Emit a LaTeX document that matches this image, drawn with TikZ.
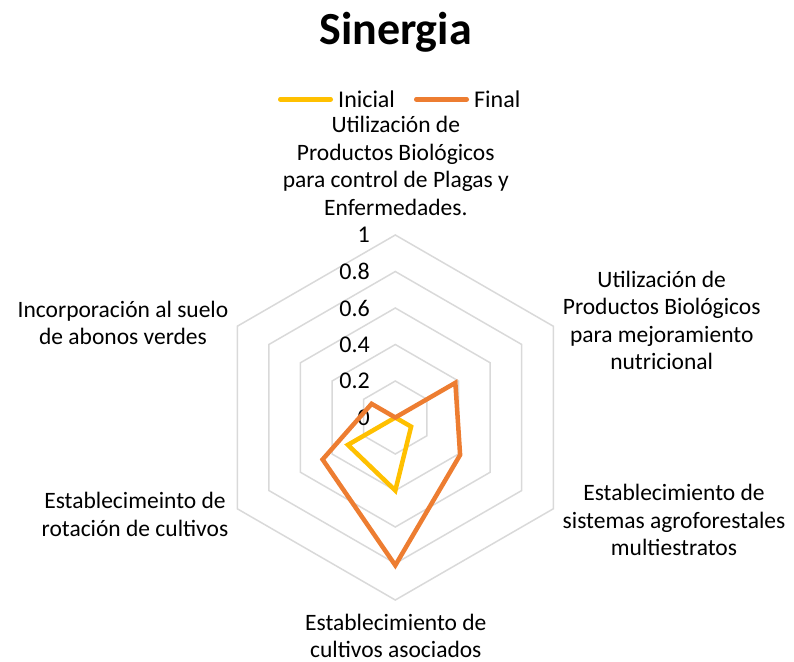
\documentclass[tikz,border=0pt]{standalone}
\usepackage{fontspec}
\setmainfont{Carlito}
\usetikzlibrary{calc}
\definecolor{inicial}{RGB}{255,192,0}
\definecolor{final}{RGB}{237,125,49}
\definecolor{rejilla}{RGB}{217,217,217}
\newcommand{\rmax}{182.5}
\tikzset{
  ring/.style={draw=rejilla, line width=1.5pt},
  serie/.style={line width=4.5pt},
  legline/.style={line width=4.5pt, line cap=round},
  eje/.style={font=\fontsize{23.5}{27.5}\selectfont, align=center, anchor=base, inner sep=0pt},
  tick/.style={font=\fontsize{24}{27.5}\selectfont, anchor=east, inner sep=0pt},
}

\begin{document}
\begin{tikzpicture}[x=1pt, y=1pt]
    \useasboundingbox (0,0) rectangle (794,-661);
    % Coordinates
    \coordinate (O) at (395.3,-417.5);

    % Title
    \node[anchor=base, inner sep=0pt, font=\fontsize{46}{50}\selectfont\bfseries] (titulo) at (395.5,-45) {Sinergia};

    % Legend
    \node[anchor=base west, inner sep=0pt, font=\fontsize{24}{27.5}\selectfont] (leginicial) at (338,-107.7) {Inicial};
    \node[anchor=base west, inner sep=0pt, font=\fontsize{24}{27.5}\selectfont] (legfinal) at (474,-107.7) {Final};
    \draw[legline, draw=inicial] ([xshift=-7.25pt]leginicial.west) -- ++(-50.5,0);
    \draw[legline, draw=final] ([xshift=-7.25pt]legfinal.west) -- ++(-50.5,0);

    % Rings
    \foreach \k in {1,...,5}
        \draw[ring, shift={(O)}] (90:{\k*36.5}) -- (30:{\k*36.5}) -- (-30:{\k*36.5}) -- (-90:{\k*36.5}) -- (-150:{\k*36.5}) -- (150:{\k*36.5}) -- cycle;

    % Tick labels
    \foreach \k/\v in {0/0, 1/0.2, 2/0.4, 3/0.6, 4/0.8, 5/1}
        \node[tick] (t\k) at ($(O)+(-25.3,{\k*36.5})$) {\v};

    % Series
    \draw[serie, draw=inicial, shift={(O)}] (90:0) -- (30:0) -- (-30:{0.1*\rmax}) -- (-90:{0.4*\rmax}) -- (-150:{0.3*\rmax}) -- (150:0) -- cycle;
    \draw[serie, draw=final, shift={(O)}] (90:0) -- (30:{0.38*\rmax}) -- (-30:{0.41*\rmax}) -- (-90:{0.81*\rmax}) -- (-150:{0.46*\rmax}) -- (150:{0.15*\rmax}) -- cycle;

    % Axis labels (base = last line)
    \node[eje] (a1) at (395.8,-215.3) {Utilización de\\Productos Biológicos\\para control de Plagas y\\Enfermedades.};
    \node[eje] (a2) at (661.7,-369.5) {Utilización de\\Productos Biológicos\\para mejoramiento\\nutricional};
    \node[eje] (a3) at (674,-555.5) {Establecimiento de\\sistemas agroforestales\\multiestratos};
    \node[eje] (a4) at (395.8,-657.5) {Establecimiento de\\cultivos asociados};
    \node[eje] (a5) at (135,-536.3) {Establecimeinto de\\rotación de cultivos};
    \node[eje] (a6) at (123,-344.7) {Incorporación al suelo\\de abonos verdes};
\end{tikzpicture}
\end{document}
